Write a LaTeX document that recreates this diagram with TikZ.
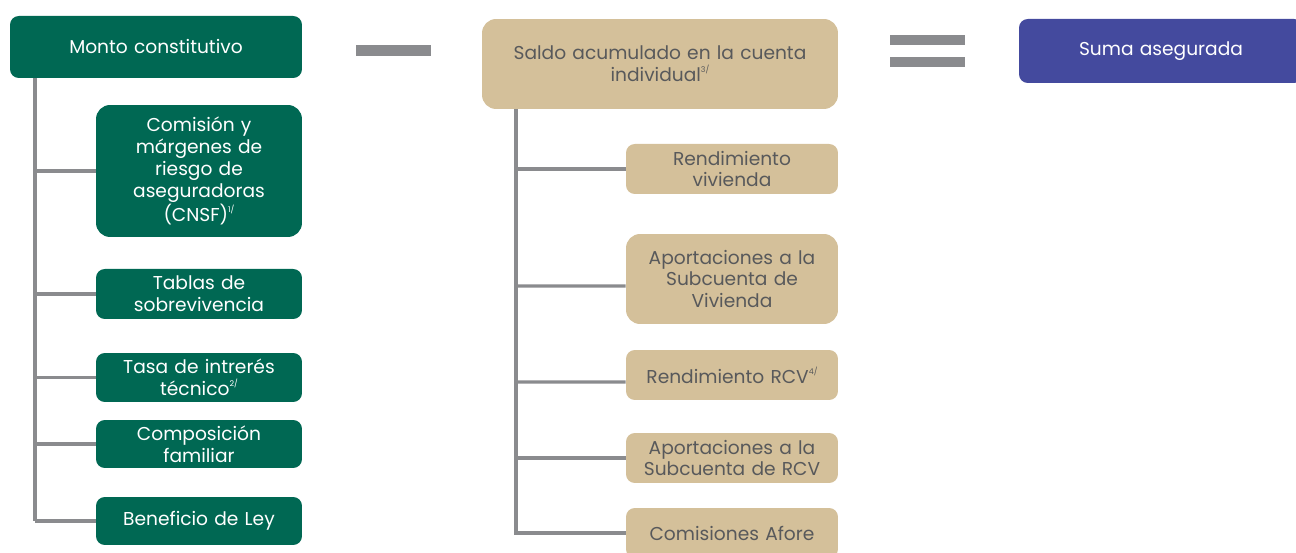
\documentclass[tikz,border=0pt]{standalone}
\usepackage{fontspec}
\setmainfont{Poppins}
\usetikzlibrary{positioning}

\definecolor{verde}{HTML}{006853}
\definecolor{arena}{HTML}{D4C09A}
\definecolor{azul}{HTML}{444A9E}
\definecolor{gris}{HTML}{8A8B8E}
\definecolor{texto}{HTML}{58595B}

% nota al pie en superindice
\newcommand{\nota}[1]{\raisebox{0.9ex}{\fontsize{4.5}{5}\selectfont #1/}}

\tikzset{
  caja/.style={rounded corners=5pt, inner sep=0pt, align=center,
               font=\fontsize{10.6}{12.5}\selectfont},
  cajaverde/.style={caja, fill=verde, text=white, minimum width=4.12cm, text width=3.8cm},
  cajaarena/.style={caja, fill=arena, text=texto, minimum width=4.24cm, text width=4cm},
  conector/.style={draw=gris, line width=1.8pt},
  signo/.style={fill=gris}
}

\begin{document}
\begin{tikzpicture}[x=0.02cm, y=-0.02cm]
  \useasboundingbox (0,0) rectangle (1296,553);
  \clip (0,0) rectangle (1296,553);

  % Columna izquierda: monto constitutivo
  \node[cajaverde, minimum width=5.84cm, text width=5.4cm, minimum height=1.24cm] (monto) at (156,47) {Monto constitutivo};
  \node[cajaverde, minimum height=2.64cm, rounded corners=8pt] (comision) at (199,171) {Comisión y\\márgenes de\\riesgo de\\aseguradoras\\(CNSF)\nota{1}};
  \node[cajaverde, minimum height=1.0cm] (tablas) at (199,294) {Tablas de\\sobrevivencia};
  \node[cajaverde, minimum height=0.98cm] (tasa) at (199,377.5) {Tasa de intrerés\\técnico\nota{2}};
  \node[cajaverde, minimum height=0.96cm] (composicion) at (199,444) {Composición\\familiar};
  \node[cajaverde, minimum height=0.96cm] (beneficio) at (199,521) {Beneficio de Ley};

  \coordinate (troncoA) at (35,78);
  \draw[conector] (troncoA) -- (troncoA |- beneficio.west);
  \foreach \hijo in {comision, tablas, tasa, composicion, beneficio}
    \draw[conector] (troncoA |- \hijo.west) -- (\hijo.west);

  % Signo menos
  \fill[signo] (356,45) rectangle (431,56);

  % Columna central: saldo acumulado
  \node[cajaarena, minimum width=7.12cm, text width=6.6cm, minimum height=1.8cm, rounded corners=8pt] (saldo) at (660,64) {Saldo acumulado en la cuenta\\individual\nota{3}};
  \node[cajaarena, minimum height=1.0cm] (rendviv) at (732,169) {Rendimiento\\vivienda};
  \node[cajaarena, minimum height=1.8cm, rounded corners=8pt] (aportviv) at (732,279) {Aportaciones a la\\Subcuenta de\\Vivienda};
  \node[cajaarena, minimum height=1.0cm] (rendrcv) at (732,375) {Rendimiento RCV\nota{4}};
  \node[cajaarena, minimum height=1.0cm] (aportrcv) at (732,458) {Aportaciones a la\\Subcuenta de RCV};
  \node[cajaarena, minimum height=1.0cm] (comafore) at (732,533) {Comisiones Afore};

  \coordinate (troncoB) at (516,109);
  \draw[conector] (troncoB) -- (516,535);
  \draw[conector] (troncoB |- rendviv.west) -- (rendviv.west);
  \draw[conector] (troncoB |- aportviv.west) ++(0,7) -- ([yshift=-0.14cm]aportviv.west);
  \draw[conector] (troncoB |- rendrcv.west) ++(0,7) -- ([yshift=-0.14cm]rendrcv.west);
  \draw[conector] (troncoB |- aportrcv.west) -- (aportrcv.west);
  \draw[conector] (troncoB |- comafore.west) -- (comafore.west);

  % Signo igual
  \fill[signo] (890,35) rectangle (965,45);
  \fill[signo] (890,57) rectangle (965,67);

  % Resultado
  \node[caja, fill=azul, text=white, minimum width=5.68cm, text width=5cm, minimum height=1.28cm] (suma) at (1161,51) {Suma asegurada};
\end{tikzpicture}
\end{document}
